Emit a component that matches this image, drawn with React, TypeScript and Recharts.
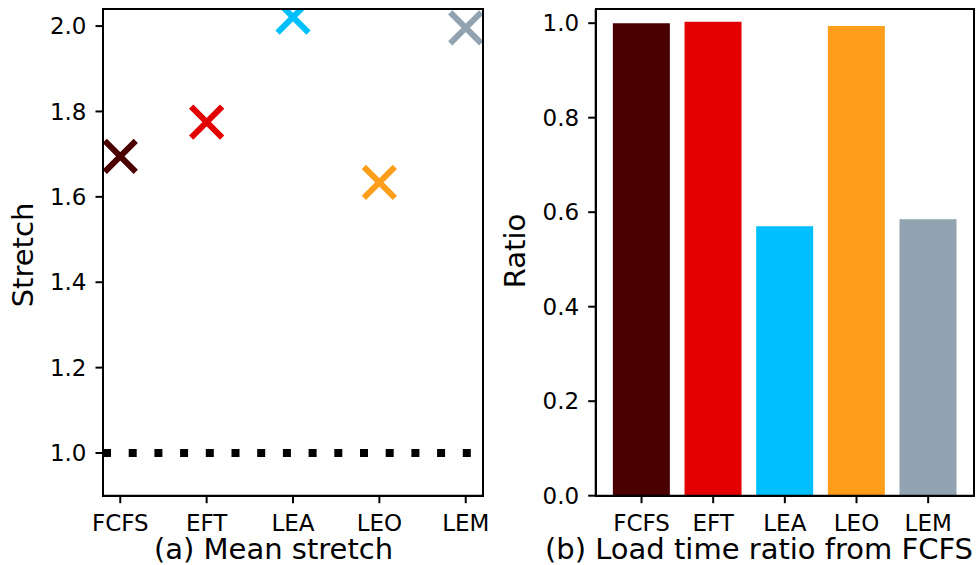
import React from 'react';
import { ScatterChart, Scatter, BarChart, Bar, Cell, XAxis, YAxis, ReferenceLine, Label } from 'recharts';

const CATEGORIES = ['FCFS', 'EFT', 'LEA', 'LEO', 'LEM'];
const STRETCH = [1.695, 1.775, 2.021, 1.634, 1.996];
const RATIO = [1.0, 1.003, 0.57, 0.994, 0.585];
const COLORS = ['#4b0000', '#e30000', '#00bfff', '#ff9e1b', '#91a3b0'];
const STRETCH_TICKS = [1.0, 1.2, 1.4, 1.6, 1.8, 2.0];
const RATIO_TICKS = [0, 0.2, 0.4, 0.6, 0.8, 1.0];
const CATEGORY_INDEX = [0, 1, 2, 3, 4];

const FONT = 'DejaVu Sans';

const stretchData = CATEGORIES.map((name, i) => ({ name, x: i, y: STRETCH[i], color: COLORS[i] }));
const ratioData = CATEGORIES.map((name, i) => ({ name, ratio: RATIO[i] }));

const axisLine = { stroke: '#000', strokeWidth: 2 };
const tickLine = { stroke: '#000', strokeWidth: 2 };
const tickStyle = { fill: '#000', fontSize: 23, fontFamily: FONT };

// matplotlib style 'x' marker
const XMarker = (props: any) => {
  const { cx, cy } = props;
  const color = props.payload?.color ?? props.fill;
  const a = 15.5;
  return (
    <path
      d={`M${cx - a},${cy - a}L${cx + a},${cy + a}M${cx - a},${cy + a}L${cx + a},${cy - a}`}
      stroke={color}
      strokeWidth={6}
      fill="none"
    />
  );
};

const textAt = (x: number, y: number, value: string, rotate = false) => () => (
  <text
    x={x}
    y={y}
    textAnchor="middle"
    fontSize={29}
    fontFamily={FONT}
    fill="#000"
    transform={rotate ? `rotate(-90, ${x}, ${y})` : undefined}
  >
    {value}
  </text>
);

// box around plot area, like matplotlib spines
const Frame = ({ left, top, right, bottom }: { left: number; top: number; right: number; bottom: number }) => (
  <div
    style={{
      position: 'absolute',
      left: left - 1,
      top: top - 1,
      width: right - left + 2,
      height: bottom - top + 2,
      border: '2px solid #000',
      boxSizing: 'border-box',
      pointerEvents: 'none',
    }}
  />
);

export default function App() {
  return (
    <div style={{ position: 'absolute', left: 0, top: 0, width: 978, height: 565, background: '#fff' }}>
      {/* (a) Mean stretch */}
      <div style={{ position: 'absolute', left: 0, top: 0 }}>
        <ScatterChart width={490} height={565} margin={{ top: 9, right: 7, bottom: 0, left: 0 }}>
          <XAxis
            type="number"
            dataKey="x"
            domain={[-0.2, 4.2]}
            ticks={CATEGORY_INDEX}
            interval={0}
            allowDataOverflow
            tickFormatter={(v: number) => CATEGORIES[v]}
            height={69.3}
            tickSize={7.5}
            tickMargin={11}
            axisLine={axisLine}
            tickLine={tickLine}
            tick={tickStyle}
          >
            <Label content={textAt(273.5, 559, '(a) Mean stretch')} />
          </XAxis>
          <YAxis
            type="number"
            dataKey="y"
            domain={[0.9, 2.04]}
            ticks={STRETCH_TICKS}
            interval={0}
            allowDataOverflow
            tickFormatter={(v: number) => v.toFixed(1)}
            width={103}
            tickSize={7.5}
            tickMargin={9}
            axisLine={axisLine}
            tickLine={tickLine}
            tick={tickStyle}
          >
            <Label content={textAt(33, 255, 'Stretch', true)} />
          </YAxis>
          <ReferenceLine y={1.0} stroke="#000" strokeWidth={8} strokeDasharray="8 17.7" />
          <Scatter data={stretchData} shape={XMarker} isAnimationActive={false} />
        </ScatterChart>
        <Frame left={103} top={9} right={483} bottom={495.7} />
      </div>

      {/* (b) Load time ratio from FCFS */}
      <div style={{ position: 'absolute', left: 490, top: 0 }}>
        <BarChart width={488} height={565} data={ratioData} margin={{ top: 9, right: 4, bottom: 0, left: 0 }}>
          <XAxis
            dataKey="name"
            padding={{ left: 10, right: 10 }}
            interval={0}
            height={69.3}
            tickSize={7.5}
            tickMargin={11}
            axisLine={axisLine}
            tickLine={tickLine}
            tick={tickStyle}
          >
            <Label content={textAt(269, 559, '(b) Load time ratio from FCFS')} />
          </XAxis>
          <YAxis
            type="number"
            domain={[0, 1.03]}
            ticks={RATIO_TICKS}
            interval={0}
            allowDataOverflow
            tickFormatter={(v: number) => v.toFixed(1)}
            width={105.7}
            tickSize={7.5}
            tickMargin={9}
            axisLine={axisLine}
            tickLine={tickLine}
            tick={tickStyle}
          >
            <Label content={textAt(35, 251, 'Ratio', true)} />
          </YAxis>
          <Bar dataKey="ratio" isAnimationActive={false}>
            {ratioData.map((d, i) => (
              <Cell key={d.name} fill={COLORS[i]} />
            ))}
          </Bar>
        </BarChart>
        <Frame left={105.7} top={9} right={484} bottom={495.7} />
      </div>
    </div>
  );
}
